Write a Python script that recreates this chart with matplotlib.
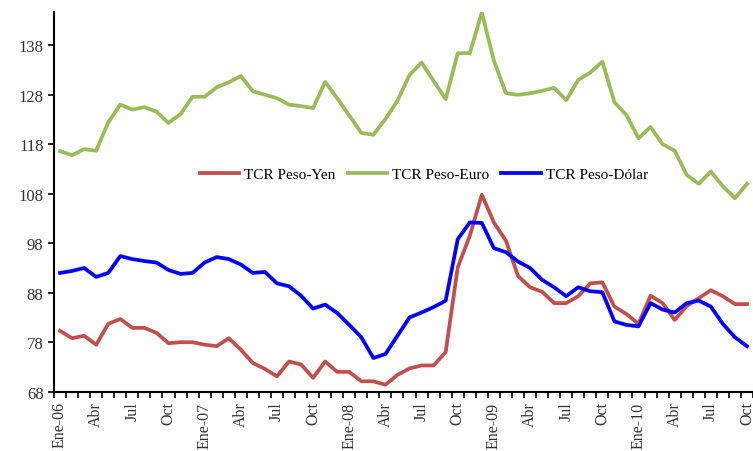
import matplotlib
matplotlib.use('Agg')
import matplotlib.pyplot as plt
import numpy as np

# meses Ene-06 .. Oct-10
etiquetas = ["Ene-06", "Abr", "Jul", "Oct", "Ene-07", "Abr", "Jul", "Oct",
             "Ene-08", "Abr", "Jul", "Oct", "Ene-09", "Abr", "Jul", "Oct",
             "Ene-10", "Abr", "Jul", "Oct"]

tcr_yen = [80.3, 78.8, 79.3, 77.5, 81.7, 82.7, 80.9, 80.9, 79.9, 77.8,
           78.0, 78.0, 77.5, 77.2, 78.8, 76.5, 73.8, 72.6, 71.1, 74.1,
           73.5, 70.8, 74.1, 72.0, 72.0, 70.1, 70.1, 69.4, 71.4, 72.7,
           73.3, 73.3, 76.0, 93.1, 99.5, 107.8, 102.2, 98.5, 91.4, 89.1,
           88.2, 85.9, 85.9, 87.3, 89.9, 90.1, 85.2, 83.7, 81.7, 87.4,
           85.9, 82.5, 85.3, 86.9, 88.5, 87.3, 85.7, 85.7]

tcr_euro = [116.6, 115.8, 117.0, 116.7, 122.4, 126.0, 125.0, 125.5, 124.6, 122.3,
            124.1, 127.6, 127.6, 129.5, 130.5, 131.8, 128.7, 128.0, 127.3, 126.0,
            125.7, 125.3, 130.6, 127.3, 123.8, 120.3, 119.9, 123.1, 126.8, 132.0,
            134.5, 130.8, 127.1, 136.4, 136.4, 144.6, 134.9, 128.3, 128.0, 128.3,
            128.8, 129.4, 126.9, 131.0, 132.5, 134.7, 126.5, 123.9, 119.2, 121.5,
            118.0, 116.7, 111.8, 110.0, 112.5, 109.5, 107.1, 110.0]

tcr_dolar = [92.0, 92.4, 93.0, 91.2, 92.0, 95.4, 94.8, 94.4, 94.1, 92.6,
             91.8, 92.0, 94.1, 95.2, 94.8, 93.7, 92.0, 92.2, 89.9, 89.3,
             87.4, 84.8, 85.6, 83.9, 81.5, 79.0, 74.8, 75.6, 79.3, 83.0,
             84.0, 85.1, 86.4, 98.8, 102.2, 102.1, 97.0, 96.2, 94.3, 93.0,
             90.6, 89.1, 87.3, 89.1, 88.3, 88.1, 82.2, 81.5, 81.2, 85.9,
             84.6, 84.0, 85.9, 86.4, 85.2, 81.7, 79.0, 77.2]

plt.rcParams['font.family'] = ['Liberation Serif', 'DejaVu Serif']

fig = plt.figure(figsize=(7.53, 4.52), dpi=100)
ax = fig.add_axes([0.0717, 0.1312, 0.9283, 0.8398])

x = np.arange(len(tcr_yen))
ax.plot(x, tcr_yen, color='#C0504D', lw=2.7, label='TCR Peso-Yen', solid_joinstyle='round')
ax.plot(x, tcr_euro, color='#9BBB59', lw=2.7, label='TCR Peso-Euro', solid_joinstyle='round')
ax.plot(x, tcr_dolar, color='#0000FF', lw=2.7, label='TCR Peso-Dólar', solid_joinstyle='round')

ax.set_xlim(-0.5, 57.05)
ax.set_ylim(68, 144.7)
ax.set_yticks(np.arange(68, 139, 10))

ax.set_xticks(np.arange(0, 58, 3))
ax.set_xticklabels(etiquetas, rotation=90, va='top')
ax.set_xticks(np.arange(-0.5, 58, 1), minor=True)
ax.tick_params(axis='x', which='major', length=0, pad=7, labelsize=11.5, labelcolor='#333333')
ax.tick_params(axis='x', which='minor', length=4, width=1.2, direction='out')
ax.tick_params(axis='y', length=4, width=1.2, direction='out', labelsize=12, labelcolor='#333333')

for s in ['top', 'right']:
    ax.spines[s].set_visible(False)
for s in ['left', 'bottom']:
    ax.spines[s].set_linewidth(1.5)

ax.legend(loc='center', bbox_to_anchor=(0.529, 0.573), ncol=3, frameon=False,
          fontsize=11, handlelength=2.6, columnspacing=0.8, handletextpad=0.3)

plt.savefig("out.png", dpi=100)
